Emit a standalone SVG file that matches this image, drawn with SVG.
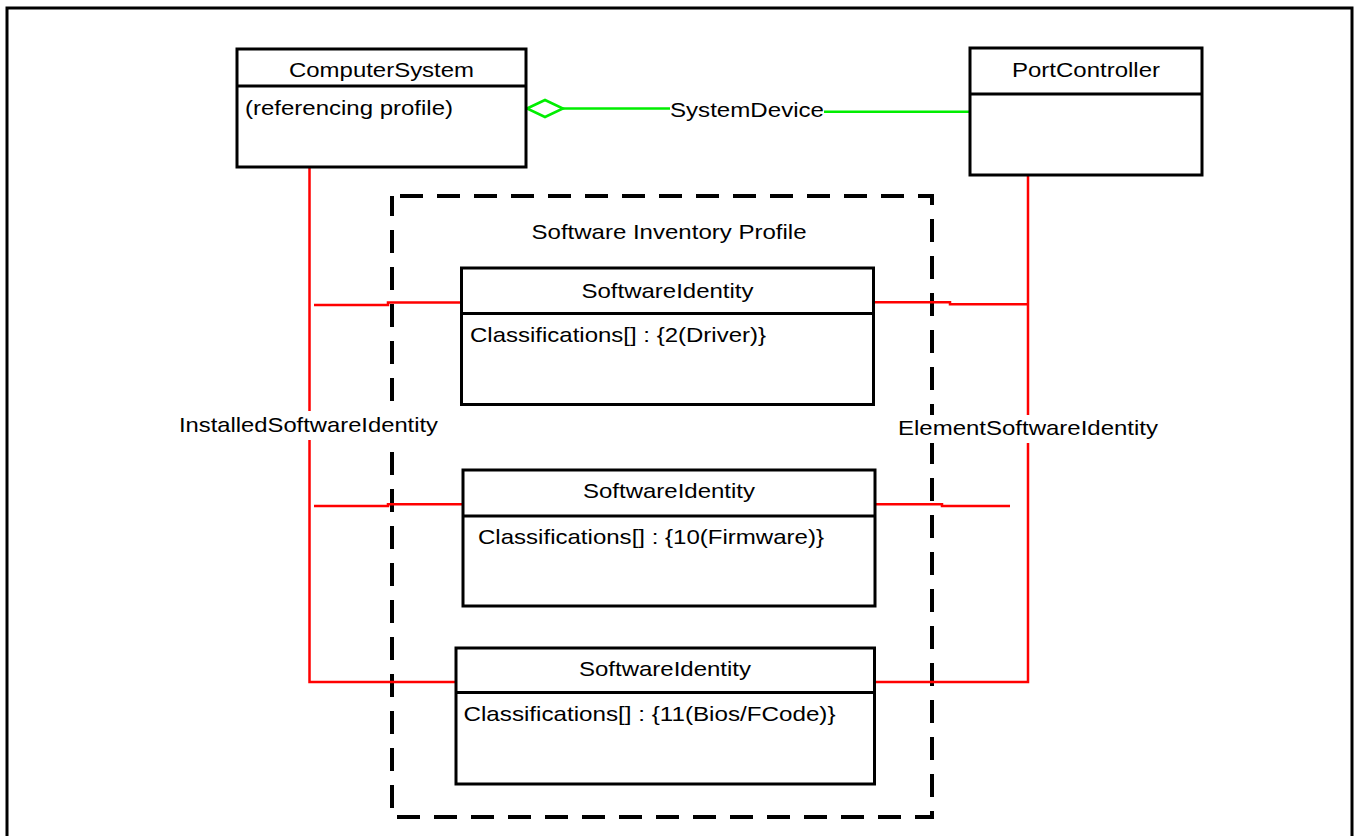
<svg xmlns="http://www.w3.org/2000/svg" width="1354" height="836" viewBox="0 0 1354 836">
<style>
  text { font-family: "Liberation Sans", Arial, sans-serif; font-size: 21px; fill: #000; }
  .box { fill: #fff; stroke: #000; stroke-width: 3; }
  .div { stroke: #000; stroke-width: 3; }
  .red { fill: none; stroke: #ff0000; stroke-width: 2.5; }
  .green { fill: none; stroke: #00ee00; stroke-width: 2.5; }
  .mid { text-anchor: middle; }
</style>
<rect x="0" y="0" width="1354" height="836" fill="#fff"/>
<rect id="frame" x="7" y="8" width="1345" height="840" fill="none" stroke="#000" stroke-width="3"/>

<g id="profile">
  <rect x="392" y="196" width="540" height="621" fill="none" stroke="#000" stroke-width="4" stroke-dasharray="23 14" stroke-dashoffset="-8"/>
  <text class="mid" x="669" y="239" textLength="275" lengthAdjust="spacingAndGlyphs">Software Inventory Profile</text>
</g>

<g id="connectors">
  <!-- SystemDevice -->
  <path class="green" d="M527,108.5 L545,100 L563,108.5 L545,117 Z"/>
  <path class="green" d="M563,108.5 L670,108.5"/>
  <path class="green" d="M824,111.7 L970,111.7"/>
  <text x="670" y="117" textLength="154" lengthAdjust="spacingAndGlyphs">SystemDevice</text>

  <!-- InstalledSoftwareIdentity -->
  <path class="red" d="M309.5,167 L309.5,682 L456,682"/>
  <path class="red" d="M314,305 L388,305 L388,302.5 L461.5,302.5"/>
  <path class="red" d="M314,506 L388,506 L388,504.3 L463,504.3"/>
  <rect x="178" y="411" width="262" height="29" fill="#fff"/>
  <text x="179" y="432" textLength="259" lengthAdjust="spacingAndGlyphs">InstalledSoftwareIdentity</text>

  <!-- ElementSoftwareIdentity -->
  <path class="red" d="M1028,176 L1028,682 L874,682"/>
  <path class="red" d="M873.5,302.3 L950,302.3 L950,304.3 L1028,304.3"/>
  <path class="red" d="M875,504.3 L942,504.3 L942,506 L1010,506"/>
  <rect x="896" y="415" width="264" height="28" fill="#fff"/>
  <text x="898" y="435" textLength="260" lengthAdjust="spacingAndGlyphs">ElementSoftwareIdentity</text>
</g>

<g id="computersystem">
  <rect class="box" x="237" y="49" width="289" height="118"/>
  <line class="div" x1="237" y1="86" x2="526" y2="86"/>
  <text class="mid" x="381.5" y="77" textLength="185" lengthAdjust="spacingAndGlyphs">ComputerSystem</text>
  <text x="245" y="115" textLength="208" lengthAdjust="spacingAndGlyphs">(referencing profile)</text>
</g>

<g id="portcontroller">
  <rect class="box" x="970" y="48" width="232" height="127"/>
  <line class="div" x1="970" y1="94" x2="1202" y2="94"/>
  <text class="mid" x="1086" y="77" textLength="148" lengthAdjust="spacingAndGlyphs">PortController</text>
</g>

<g id="swid-driver">
  <rect class="box" x="461.5" y="268" width="412" height="136.5"/>
  <line class="div" x1="461.5" y1="313.5" x2="873.5" y2="313.5"/>
  <text class="mid" x="667.5" y="298" textLength="172" lengthAdjust="spacingAndGlyphs">SoftwareIdentity</text>
  <text x="470" y="342" textLength="296" lengthAdjust="spacingAndGlyphs">Classifications[] : {2(Driver)}</text>
</g>

<g id="swid-firmware">
  <rect class="box" x="463" y="470" width="412" height="136"/>
  <line class="div" x1="463" y1="516" x2="875" y2="516"/>
  <text class="mid" x="669" y="498" textLength="172" lengthAdjust="spacingAndGlyphs">SoftwareIdentity</text>
  <text x="478" y="544" textLength="346" lengthAdjust="spacingAndGlyphs">Classifications[] : {10(Firmware)}</text>
</g>

<g id="swid-bios">
  <rect class="box" x="456" y="648" width="418.5" height="136"/>
  <line class="div" x1="456" y1="692.5" x2="874.5" y2="692.5"/>
  <text class="mid" x="665" y="676" textLength="172" lengthAdjust="spacingAndGlyphs">SoftwareIdentity</text>
  <text x="463.5" y="721" textLength="372" lengthAdjust="spacingAndGlyphs">Classifications[] : {11(Bios/FCode)}</text>
</g>
</svg>
